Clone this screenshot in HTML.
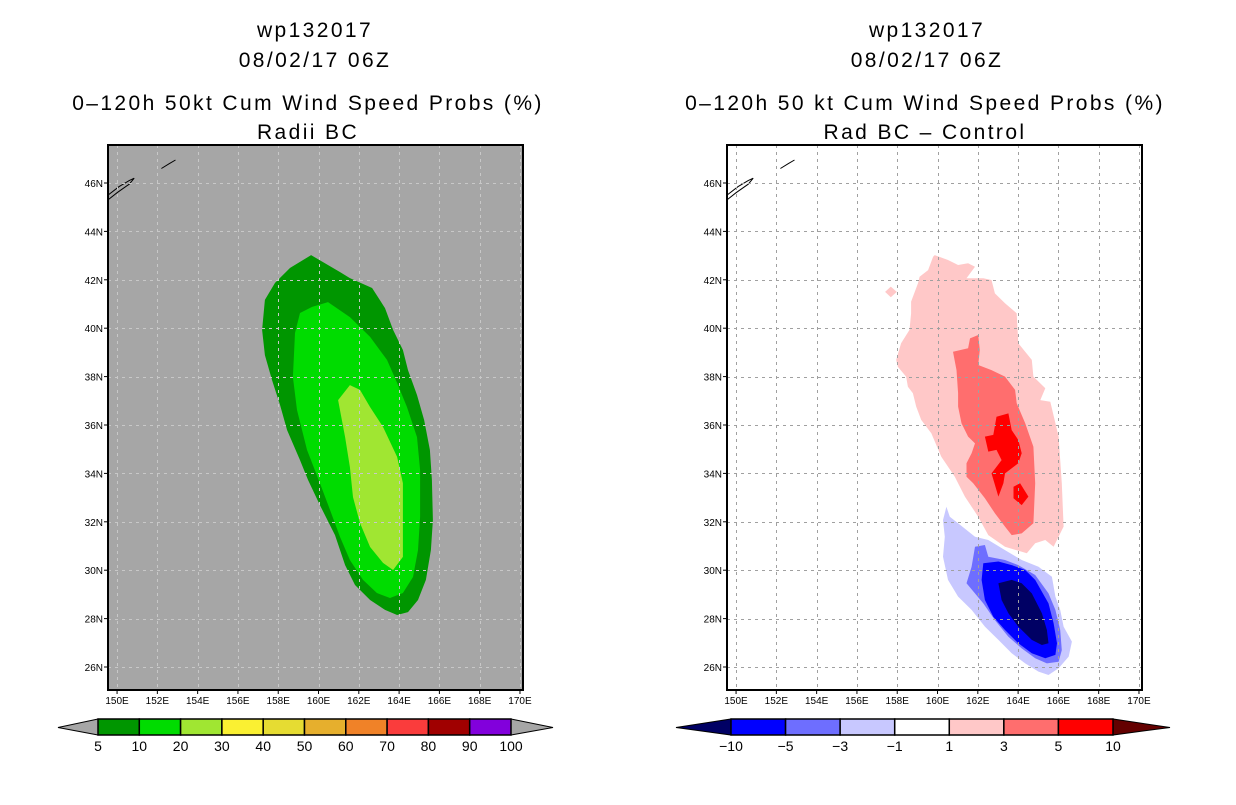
<!DOCTYPE html>
<html><head><meta charset="utf-8">
<style>
body{margin:0;background:#fff;width:1236px;height:800px;overflow:hidden;font-family:"Liberation Sans",sans-serif;}
svg text{font-family:"Liberation Sans",sans-serif;}
</style></head>
<body>
<svg id="chart" width="1236" height="800" xmlns="http://www.w3.org/2000/svg">
<g id="titles" font-size="21" text-anchor="middle" fill="#000" letter-spacing="2.4">
<text x="315" y="37">wp132017</text>
<text x="315" y="67">08/02/17 06Z</text>
<text x="308" y="110">0–120h 50kt Cum Wind Speed Probs (%)</text>
<text x="308" y="139">Radii BC</text>
<text x="927" y="37">wp132017</text>
<text x="927" y="67">08/02/17 06Z</text>
<text x="925" y="110">0–120h 50 kt Cum Wind Speed Probs (%)</text>
<text x="925" y="139">Rad BC – Control</text>
</g>
</svg>
<script>
// ---- data ----
const lonTicks=[150,152,154,156,158,160,162,164,166,168,170];
const latTicks=[26,28,30,32,34,36,38,40,42,44,46];
const leftLevels=['5','10','20','30','40','50','60','70','80','90','100'];
const leftColors=['#009600','#00dc00','#a0e632','#faf032','#e6dc32','#e6af2d','#f08228','#fa3c3c','#a00000','#8200dc'];
const rightLevels=['-10','-5','-3','-1','1','3','5','10'];
const rightColors=['#0000ff','#6e6eff','#c8c8ff','#ffffff','#ffc8c8','#ff6e6e','#ff0000'];
// polygons as [lon,lat] pairs
const probOuter=[[159.63,43.02],[161.07,42.32],[161.56,42.07],[162.66,41.66],[163.30,40.83],[163.70,39.93],[164.19,39.10],[164.44,38.27],[164.89,37.24],[165.24,36.21],[165.53,34.97],[165.63,33.73],[165.68,32.07],[165.58,30.83],[165.33,29.60],[164.94,28.77],[164.44,28.27],[163.90,28.15],[163.30,28.36],[162.56,28.77],[161.81,29.39],[161.32,30.21],[160.82,31.45],[160.07,32.69],[159.48,33.73],[159.08,34.55],[158.44,35.79],[158.09,36.83],[157.69,37.86],[157.34,38.89],[157.20,39.93],[157.34,41.17],[157.84,41.87],[158.59,42.49]];
const probMid=[[159.68,40.88],[160.47,41.08],[161.56,40.46],[162.56,39.64],[163.40,38.69],[163.90,37.74],[164.39,36.74],[164.89,35.50],[165.04,34.14],[165.04,32.20],[164.94,30.83],[164.69,29.72],[164.19,29.06],[163.55,28.85],[162.90,29.06],[162.21,29.60],[161.56,30.42],[161.07,31.37],[160.57,32.49],[160.07,33.60],[159.43,34.97],[158.93,36.62],[158.73,37.98],[158.83,39.80],[159.08,40.63]];
const probInner=[[160.97,37.03],[161.56,37.65],[162.06,37.45],[162.56,36.74],[163.20,35.92],[163.90,34.68],[164.19,33.60],[164.19,30.55],[163.70,30.01],[163.20,30.30],[162.56,30.96],[162.06,31.95],[161.71,33.02],[161.56,34.26],[161.32,35.50]];
const diffPos1=[[159.86,43.02],[160.52,42.82],[161.02,42.61],[161.52,42.68],[161.86,42.54],[161.44,42.06],[162.27,42.06],[162.68,41.99],[162.85,41.44],[163.35,41.03],[163.93,40.62],[164.01,39.38],[164.68,38.69],[164.76,38.00],[165.35,37.52],[165.10,37.03],[165.60,36.96],[166.01,35.52],[166.17,33.59],[166.26,31.80],[165.76,30.97],[165.35,31.25],[164.85,31.11],[164.43,30.70],[163.35,30.97],[162.52,31.45],[162.02,32.21],[161.36,33.04],[160.86,33.86],[160.19,34.69],[159.69,35.66],[159.19,36.21],[158.94,36.76],[158.78,37.31],[158.53,37.58],[158.44,38.00],[158.03,38.41],[157.95,38.69],[158.19,39.38],[158.61,39.93],[158.69,40.62],[158.69,41.10],[159.03,41.86],[159.11,42.13],[159.53,42.40],[159.78,42.95]];
const diffPos1b=[[157.40,41.5],[157.68,41.72],[157.98,41.5],[157.68,41.28]];
const diffPos3=[[160.77,39.03],[161.52,39.17],[161.61,39.58],[162.02,39.72],[162.10,39.10],[162.02,38.48],[162.68,38.27],[163.35,38.00],[163.85,37.45],[163.93,36.90],[164.35,36.07],[164.76,35.10],[164.85,33.59],[164.76,31.94],[164.18,31.52],[163.68,31.45],[163.35,31.80],[162.85,32.35],[162.35,32.97],[161.77,33.59],[161.44,33.86],[161.44,34.42],[161.69,34.83],[161.86,35.24],[161.52,35.52],[161.19,36.07],[161.02,36.76],[161.02,37.31],[160.94,38.27]];
const diffPos5a=[[162.93,36.34],[163.52,36.48],[163.68,35.79],[164.01,35.38],[164.18,34.83],[164.01,34.42],[163.35,34.00],[163.27,33.59],[163.02,33.04],[162.68,34.00],[163.18,34.55],[162.93,34.97],[162.52,34.90],[162.35,35.52],[162.77,35.59]];
const diffPos5b=[[163.77,33.45],[164.10,33.59],[164.51,33.04],[164.18,32.69],[163.77,32.97]];
const diffNeg1=[[160.44,32.62],[160.61,32.21],[161.02,31.94],[161.86,31.38],[162.52,31.25],[163.35,30.83],[164.18,30.42],[165.01,30.14],[165.68,29.73],[165.85,28.91],[166.09,28.36],[166.26,27.67],[166.67,27.05],[166.51,26.43],[166.01,25.95],[165.51,25.67],[165.01,25.81],[164.35,26.15],[163.68,26.57],[163.02,27.12],[162.35,27.67],[161.69,28.36],[161.02,28.91],[160.52,29.60],[160.27,30.56],[160.36,31.38],[160.27,32.07]];
const diffNeg3=[[161.86,30.97],[162.35,31.04],[162.52,30.56],[163.35,30.42],[164.01,30.21],[164.85,29.80],[165.51,29.04],[165.85,28.36],[166.09,27.53],[166.17,26.70],[166.01,26.22],[165.43,26.15],[164.85,26.36],[164.18,26.77],[163.52,27.25],[162.85,27.94],[162.27,28.63],[161.44,29.46],[161.69,30.14]];
const diffNeg5=[[162.27,30.29],[163.02,30.36],[163.68,30.21],[164.35,30.01],[164.85,29.60],[165.51,28.63],[165.76,27.81],[165.93,26.98],[165.85,26.50],[165.35,26.36],[164.68,26.57],[164.01,26.98],[163.35,27.53],[162.77,28.08],[162.35,28.77],[162.19,29.60]];
const diffNeg10=[[163.02,29.46],[163.68,29.60],[164.18,29.46],[164.68,29.04],[165.18,28.22],[165.43,27.53],[165.51,26.98],[165.18,26.91],[164.68,27.12],[164.01,27.67],[163.52,28.22],[163.18,28.77]];
const coast1=[[149.55,45.5],[150.1,45.85],[150.6,46.1],[150.85,46.2],[150.6,45.95],[150.0,45.6],[149.55,45.3]];
const coast2=[[152.2,46.6],[152.6,46.8],[152.9,46.95]];

const NS='http://www.w3.org/2000/svg';
const svg=document.getElementById('chart');
function mk(tag,attrs,parent){const e=document.createElementNS(NS,tag);for(const k in attrs)e.setAttribute(k,attrs[k]);(parent||svg).appendChild(e);return e;}

function panel(x0,x1,bg,name){
  const top=145,bot=690;
  const lon0=149.55,lon1=170.15,lat0=25.05,lat1=47.57;
  const xs=l=>x0+(l-lon0)/(lon1-lon0)*(x1-x0);
  const ys=l=>bot-(l-lat0)/(lat1-lat0)*(bot-top);
  const g=mk('g',{});
  
  
  const bgR=mk('rect',{x:x0,y:top,width:x1-x0,height:bot-top,fill:bg},g);
  
  
  return {g,xs,ys,top,bot,x0,x1};
}
function poly(p,pts,fill,name){
  const e=mk('polygon',{points:pts.map(q=>p.xs(q[0]).toFixed(1)+','+p.ys(q[1]).toFixed(1)).join(' '),fill:fill},p.g);
  
  
}
function line(p,pts,name){
  const e=mk('polyline',{points:pts.map(q=>p.xs(q[0]).toFixed(1)+','+p.ys(q[1]).toFixed(1)).join(' '),fill:'none',stroke:'#000','stroke-width':1},p.g);
  
  
}
function frame(p,gridColor){
  const gg=mk('g',{stroke:gridColor,'stroke-width':1,'stroke-dasharray':'3,4'},p.g);
  
  
  lonTicks.forEach(l=>{const x=Math.round(p.xs(l))+.5;if(x>p.x0+2&&x<p.x1-2)mk('line',{x1:x,x2:x,y1:p.top,y2:p.bot},gg);});
  latTicks.forEach(l=>{const y=Math.round(p.ys(l))+.5;mk('line',{x1:p.x0,x2:p.x1,y1:y,y2:y},gg);});
  const b=mk('rect',{x:p.x0,y:p.top,width:p.x1-p.x0,height:p.bot-p.top,fill:'none',stroke:'#000','stroke-width':2},p.g);
  
  
  lonTicks.forEach(l=>{const x=p.xs(l);
    mk('line',{x1:x,x2:x,y1:p.bot,y2:p.bot+4,stroke:'#000'},p.g);
    const t=mk('text',{x:x,y:p.bot+14,'font-size':10,'text-anchor':'middle'},p.g);t.textContent=l+'E';
    
    });
  latTicks.forEach(l=>{const y=p.ys(l);
    mk('line',{x1:p.x0-4,x2:p.x0,y1:y,y2:y,stroke:'#000'},p.g);
    const t=mk('text',{x:p.x0-5,y:y+4,'font-size':10,'text-anchor':'end'},p.g);t.textContent=l+'N';
    
    });
}
function colorbar(bx0,bx1,tip0,tip1,colors,labels,endColor0,endColor1,name){
  const g=mk('g',{});
  
  
  const y0=719,y1=735,ym=727.5,w=(bx1-bx0)/colors.length;
  const t0=mk('polygon',{points:`${tip0},${ym} ${bx0},${y0} ${bx0},${y1}`,fill:endColor0,stroke:'#000','stroke-width':1},g);
  
  
  const t1=mk('polygon',{points:`${tip1},${ym} ${bx1},${y0} ${bx1},${y1}`,fill:endColor1,stroke:'#000','stroke-width':1},g);
  
  
  colors.forEach((c,i)=>{const r=mk('rect',{x:bx0+i*w,y:y0,width:w,height:y1-y0,fill:c,stroke:'#000','stroke-width':1.5},g);
    
    });
  labels.forEach((s,i)=>{const t=mk('text',{x:bx0+i*w,y:751,'font-size':14,'text-anchor':'middle'},g);t.textContent=s.replace('-','−');
    
    });
}

// left panel
const L=panel(108,523,'#a6a6a6','left-map-panel');
poly(L,probOuter,leftColors[0],'prob-5-10-area');
poly(L,probMid,leftColors[1],'prob-10-20-area');
poly(L,probInner,leftColors[2],'prob-20-30-area');
line(L,coast1,'coastline');line(L,coast2,'coastline');
frame(L,'#c8c8c8');
colorbar(98,511,58,553,leftColors,leftLevels,'#a6a6a6','#a6a6a6','left-colorbar');

// right panel
const R=panel(727,1142,'#ffffff','right-map-panel');
poly(R,diffPos1,rightColors[4],'diff-1-3-area');
poly(R,diffPos1b,rightColors[4],'diff-1-3-blob');
poly(R,diffPos3,rightColors[5],'diff-3-5-area');
poly(R,diffPos5a,rightColors[6],'diff-5-10-area');
poly(R,diffPos5b,rightColors[6],'diff-5-10-blob');
poly(R,diffNeg1,rightColors[2],'diff-neg1-neg3-area');
poly(R,diffNeg3,rightColors[1],'diff-neg3-neg5-area');
poly(R,diffNeg5,rightColors[0],'diff-neg5-neg10-area');
poly(R,diffNeg10,'#000064','diff-below-neg10-area');
line(R,coast1,'coastline');line(R,coast2,'coastline');
frame(R,'#a0a0a0');
colorbar(731,1113,676,1170,rightColors,rightLevels,'#000064','#640000','right-colorbar');
</script>
</body></html>
